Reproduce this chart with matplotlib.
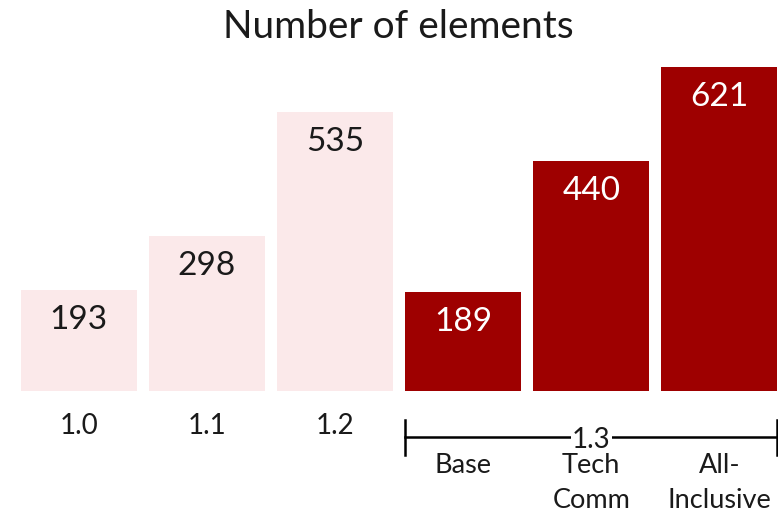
import matplotlib
matplotlib.use("Agg")
import matplotlib.pyplot as plt
import matplotlib.transforms as mtransforms

versions = ["1.0", "1.1", "1.2", "Base", "Tech\nComm", "All-\nInclusive"]
counts = [193, 298, 535, 189, 440, 621]
group_label = "1.3"

plt.rcParams['font.family'] = ['Lato', 'DejaVu Sans']

light = "#FBE9EA"
dark = "#9E0000"
colors = [light] * 3 + [dark] * 3
text_colors = ["#1a1a1a"] * 3 + ["white"] * 3

fig = plt.figure(figsize=(7.78, 5.13), dpi=100)
ax = fig.add_axes([21 / 778, (513 - 391) / 513, 756 / 778, 324 / 513])

x = list(range(len(counts)))
ax.bar(x, counts, width=0.906, color=colors)
ax.set_xlim(-0.45, len(counts) - 0.55)
ax.set_ylim(0, max(counts))
ax.axis("off")

# value labels inside the bars
for xi, v, tc in zip(x, counts, text_colors):
    ax.annotate(str(v), (xi, v), xytext=(0, -30), textcoords="offset pixels",
                ha="center", va="center", fontsize=24, color=tc)

trans = mtransforms.blended_transform_factory(ax.transData, ax.transAxes)

def yfrac(py):
    return (391 - py) / 324

# first three version labels
for xi, lab in zip(x[:3], versions[:3]):
    ax.text(xi, yfrac(424), lab, transform=trans, ha="center", va="center_baseline",
            fontsize=20, color="#1a1a1a", clip_on=False)

# bracket under 1.3 group
x0, x1 = 2.55, 5.45
ax.plot([x0, x1], [yfrac(437)] * 2, transform=trans, color="black", lw=1.8, clip_on=False)
for xe in (x0, x1):
    ax.plot([xe, xe], [yfrac(420), yfrac(455)], transform=trans, color="black", lw=1.8, clip_on=False)
ax.text((x0 + x1) / 2, yfrac(438), group_label, transform=trans, ha="center", va="center_baseline",
        fontsize=20, color="#1a1a1a", clip_on=False,
        bbox=dict(facecolor="white", edgecolor="none", pad=1))

# sub labels of the 1.3 group, one line at a time
for xi, lab in zip(x[3:], versions[3:]):
    for k, line in enumerate(lab.split("\n")):
        ax.text(xi, yfrac(463 + 35 * k), line, transform=trans, ha="center",
                va="center_baseline", fontsize=19.5, color="#1a1a1a", clip_on=False)

fig.text(398 / 778, 1 - 27 / 513, "Number of elements", ha="center", va="center",
         fontsize=28, color="#1a1a1a")

fig.savefig("out.png", dpi=100)
